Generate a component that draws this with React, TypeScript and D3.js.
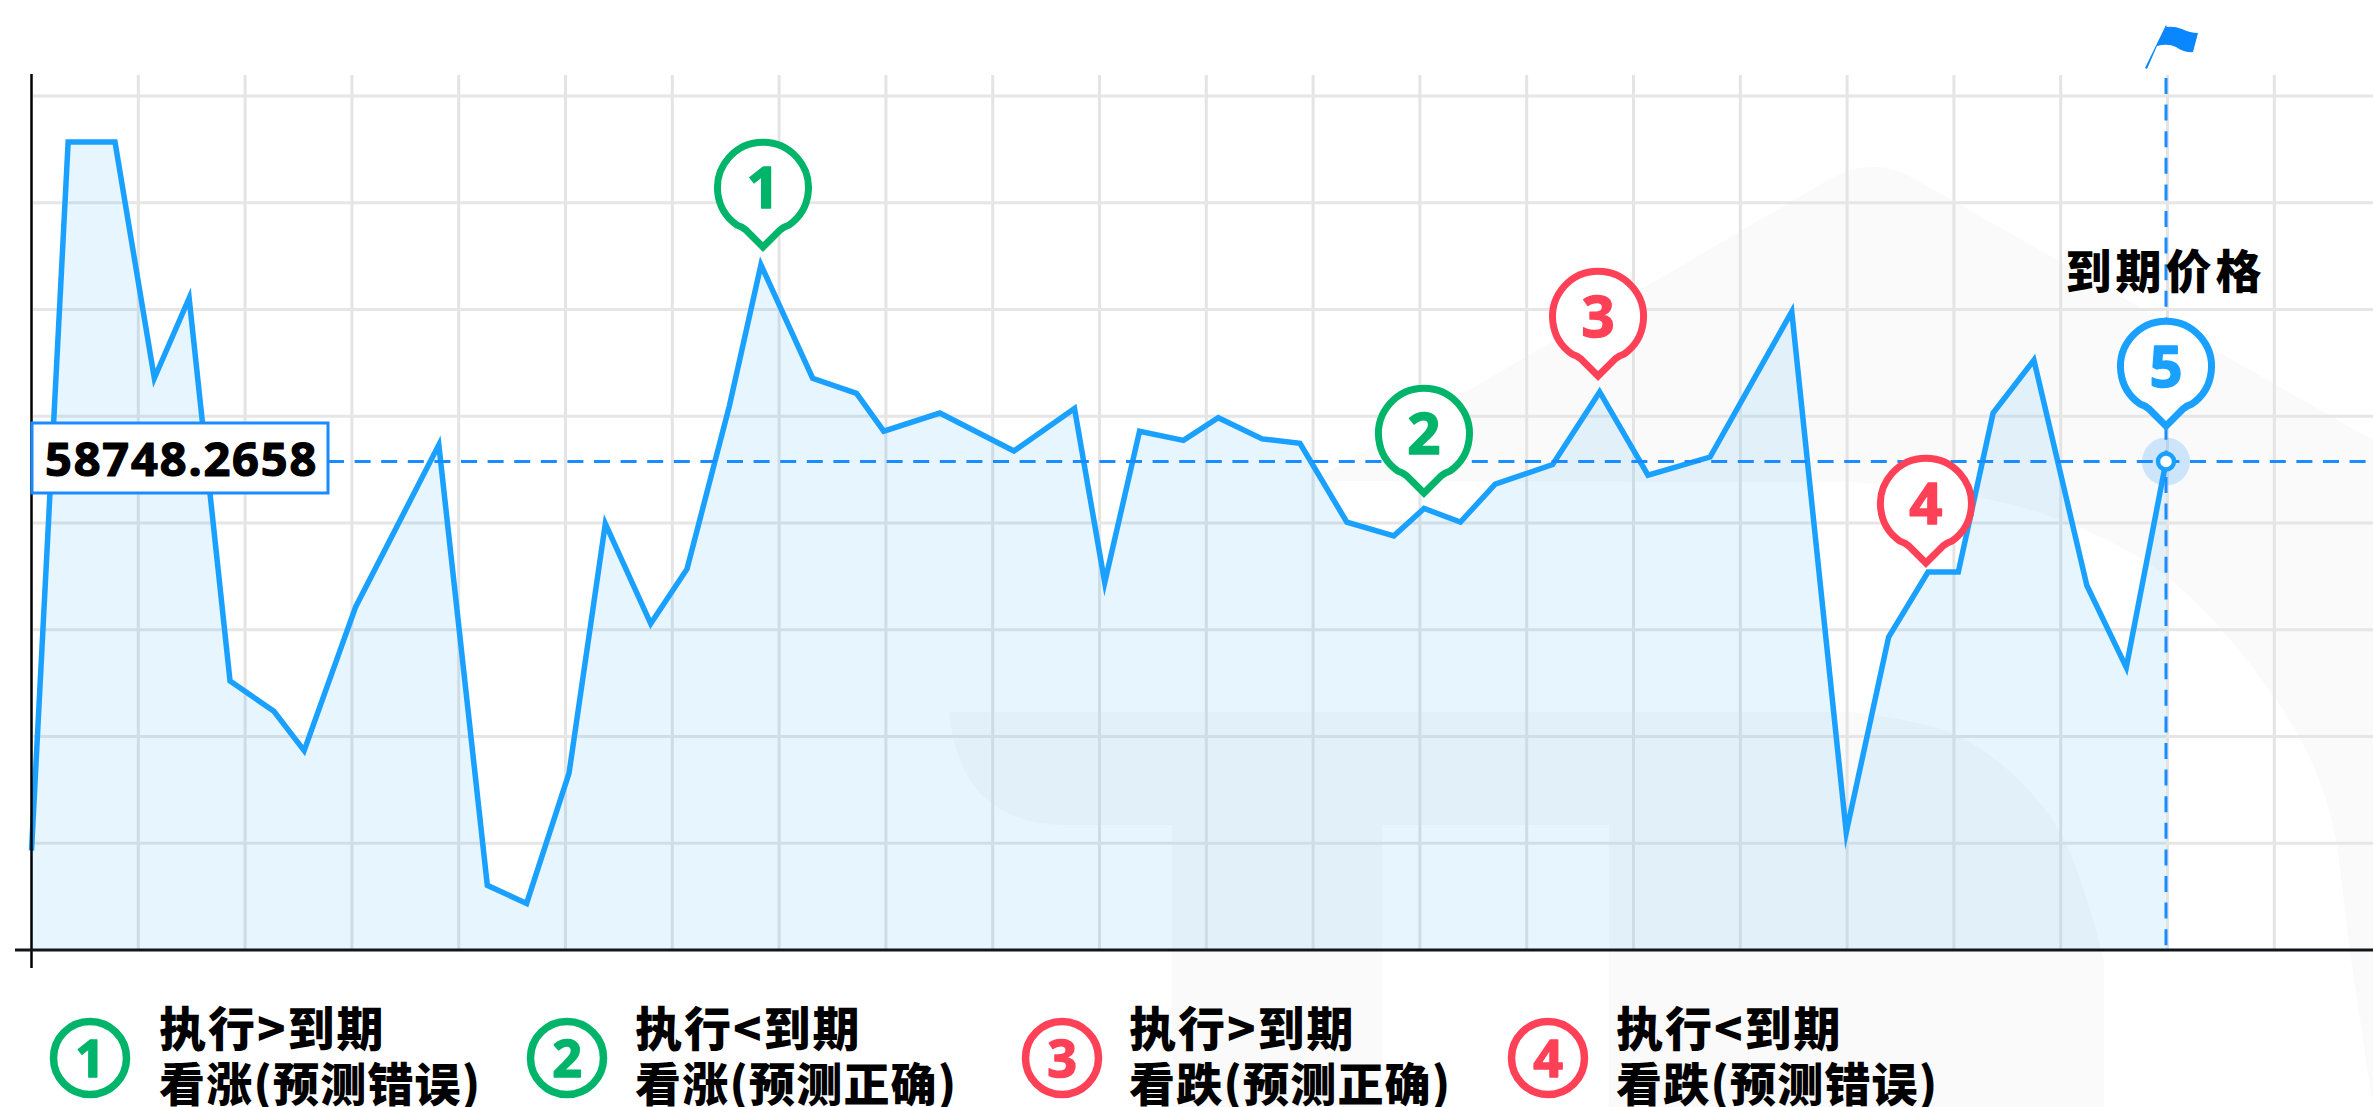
import * as d3 from "d3";

const WIDTH = 2373;
const HEIGHT = 1107;

const times = [0, 0.343, 0.782, 1.15, 1.476, 1.859, 2.27, 2.553, 3.035, 3.814, 4.268, 4.636, 5.033, 5.373, 5.798, 6.138, 6.535, 6.83, 7.314, 7.725, 7.98, 8.505, 9.199, 9.766, 10.049, 10.375, 10.786, 11.112, 11.523, 11.877, 12.316, 12.756, 13.039, 13.379, 13.705, 14.243, 14.683, 15.136, 15.717, 16.482, 16.992, 17.389, 17.758, 18.041, 18.367, 18.749, 19.245, 19.614, 19.986];
const prices = [56926, 60244, 60244, 59138, 59513, 57720, 57578, 57394, 58067, 58826, 56763, 56678, 57288, 58457, 57989, 58245, 59010, 59669, 59138, 59067, 58890, 58975, 58797, 58996, 58181, 58890, 58847, 58953, 58854, 58833, 58464, 58400, 58528, 58464, 58642, 58734, 59074, 58684, 58769, 59450, 57011, 57926, 58230, 58230, 58975, 59223, 58167, 57784, 58748.2658];

const expiryTime = 19.986;
const expiryPrice = 58748.2658;
const priceLabel = "58748.2658";
const expiryLabel = "到期价格";

const pinNames = ["1", "2", "3", "4", "5"];
const pinTimes = [6.849, 13.038, 14.668, 17.738, 19.986];
const pinPrices = [59729, 58577, 59125, 58249, 58891];
const pinColors = ["#00b46a", "#00b46a", "#ff4158", "#ff4158", "#1aa1ff"];

const legendNames = ["1", "2", "3", "4"];
const legendFirst = ["执行>到期", "执行<到期", "执行>到期", "执行<到期"];
const legendSecond = ["看涨(预测错误)", "看涨(预测正确)", "看跌(预测正确)", "看跌(预测错误)"];
const legendCircleX = [90, 567, 1062, 1548];
const legendTextX = [159, 635, 1129, 1616];

const xTicks = d3.range(0, 23);
const yTicks = d3.range(1, 9).map((i) => 56460 + i * 500);

const xScale = d3.scaleLinear().domain([0, 22]).range([31.5, 31.5 + 22 * 106.8]);
const yScale = d3.scaleLinear().domain([56460, 60460]).range([950, 96]);

const points: [number, number][] = times.map((t, i) => [t, prices[i]]);
const linePath = d3.line<[number, number]>().x((d) => xScale(d[0])).y((d) => yScale(d[1]))(points) ?? "";
const areaPath = d3.area<[number, number]>().x((d) => xScale(d[0])).y0(yScale(56460)).y1((d) => yScale(d[1]))(points) ?? "";

// faint logo behind the chart
const smooth = d3.line().curve(d3.curveCatmullRom);
const roofEdge = smooth([[2373, 1107], [2351, 960], [2326, 800], [2274, 697], [2167, 577], [2060, 520], [1950, 492], [1849, 482]]) ?? "";
const bandEdge = smooth([[1850, 712], [1961, 737], [2055, 823], [2104, 960]]) ?? "";
const logoRoof = `M1313,481L1833,177Q1877,155 1917,180L2373,440L${roofEdge.slice(1)}Z`;
const logoBand = `M949,712L${bandEdge.slice(1)}L2104,1107L1609,1107L1609,825L1382,825L1382,1107L1172,1107L1172,825L1065,825Q960,825 949,712Z`;

const pinShape = "M0,0L-17,-17Q-22,-21 -26,-22A45.5,45.5 0 1 1 26,-22Q22,-21 17,-17Z";

const heavy = { fontFamily: "'Noto Sans CJK SC', sans-serif", fontWeight: 900 } as const;
const digit = { fontFamily: "'Noto Sans', sans-serif", fontWeight: 700, strokeLinejoin: "round" } as const;

export default function App() {
  const ex = xScale(expiryTime);
  const ey = yScale(expiryPrice);
  return (
    <svg width={WIDTH} height={HEIGHT} viewBox={`0 0 ${WIDTH} ${HEIGHT}`} style={{ position: "absolute", left: 0, top: 0, display: "block" }}>
      <rect width={WIDTH} height={HEIGHT} fill="#fff" />
      <path d={logoRoof} fill="#000" fillOpacity={0.02} />
      <path d={logoBand} fill="#000" fillOpacity={0.018} />

      {xTicks.slice(1).map((t) => (
        <line key={t} x1={xScale(t)} x2={xScale(t)} y1={75} y2={950} stroke="#e4e4e4" strokeWidth={3} />
      ))}
      {yTicks.map((p) => (
        <line key={p} x1={33} x2={WIDTH} y1={yScale(p)} y2={yScale(p)} stroke="#e6e6e6" strokeWidth={3} />
      ))}

      <path d={areaPath} fill="#1a9fff" fillOpacity={0.105} />
      <path d={linePath} fill="none" stroke="#1aa1ff" strokeWidth={5.5} strokeLinejoin="miter" strokeMiterlimit={10} />

      <line x1={31.5} x2={31.5} y1={74} y2={968} stroke="#000" strokeWidth={2.5} />
      <line x1={15} x2={WIDTH} y1={950} y2={950} stroke="#10161c" strokeWidth={3} />

      <line x1={328} x2={WIDTH} y1={ey} y2={ey} stroke="#1a8cff" strokeWidth={3} strokeDasharray="16 10.6" />
      <line x1={ex} x2={ex} y1={78} y2={950} stroke="#1a8cff" strokeWidth={3} strokeDasharray="16 10.6" />

      <g transform={`translate(${ex},0)`}>
        <path d="M-21,68L0,25L1,27Q8,26 16,29Q24,33 32,33L27,52Q18,53 10,47Q2,43 -9,46L-19,69Z" fill="#0a86ff" />
      </g>

      <circle cx={ex} cy={ey} r={24} fill="#1890ff" fillOpacity={0.2} />
      <circle cx={ex} cy={ey} r={8} fill="#fff" stroke="#1aa1ff" strokeWidth={4.5} />

      {pinNames.map((name, i) => {
        const px = xScale(pinTimes[i]);
        const py = yScale(pinPrices[i]) - 5;
        return (
          <g key={name} transform={`translate(${px},${py})`}>
            <path d={pinShape} fill="#fff" stroke={pinColors[i]} strokeWidth={7} strokeMiterlimit={6} />
            <text x={0} y={-39} textAnchor="middle" fontSize={58} fill={pinColors[i]} stroke={pinColors[i]} strokeWidth={1.5} {...digit}>
              {name}
            </text>
          </g>
        );
      })}

      <text x={2165.5} y={288} textAnchor="middle" fontSize={46} letterSpacing={4} fill="#000" {...heavy}>
        {expiryLabel}
      </text>

      <rect x={32} y={423} width={296} height={70} fill="#fff" stroke="#1a8cff" strokeWidth={3} />
      <text x={45} y={476} fontSize={47} letterSpacing={1.8} fill="#000" stroke="#000" strokeWidth={1.2} {...digit}>
        {priceLabel}
      </text>

      {legendNames.map((name, i) => (
        <g key={name}>
          <circle cx={legendCircleX[i]} cy={1058} r={36.5} fill="#fff" stroke={pinColors[i]} strokeWidth={7.5} />
          <text x={legendCircleX[i]} y={1077} textAnchor="middle" fontSize={52} fill={pinColors[i]} stroke={pinColors[i]} strokeWidth={1.5} {...digit}>
            {name}
          </text>
          <text x={legendTextX[i]} y={1046} fontSize={47} letterSpacing={2} fill="#000" {...heavy}>
            {legendFirst[i]}
          </text>
          <text x={legendTextX[i]} y={1101} fontSize={46} letterSpacing={1.2} fill="#000" {...heavy}>
            {legendSecond[i]}
          </text>
        </g>
      ))}
    </svg>
  );
}
